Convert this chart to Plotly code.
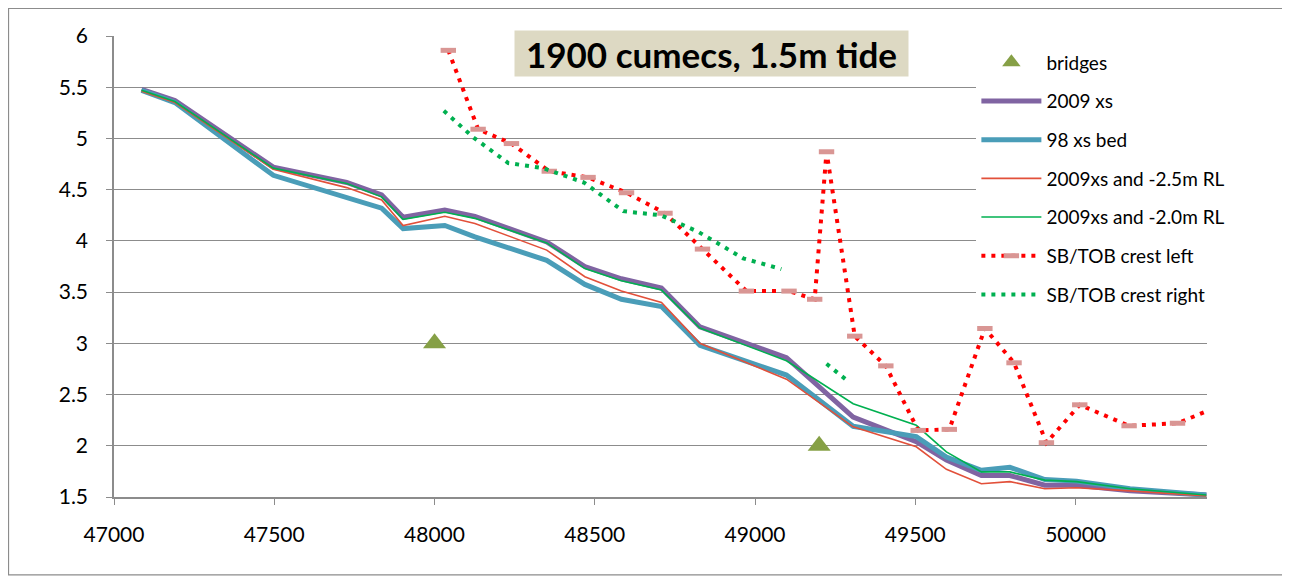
import plotly.graph_objects as go

# chainage (m) of the cross sections
chainage = [47086, 47190, 47497, 47726, 47835, 47902, 48032, 48126, 48350, 48469, 48583, 48708,
            48828, 49098, 49306, 49503, 49597, 49706, 49795, 49904, 50003, 50170, 50408]
xs_2009 = [5.48, 5.37, 4.72, 4.57, 4.45, 4.23, 4.30, 4.24, 3.99, 3.75, 3.63, 3.54,
           3.16, 2.86, 2.28, 2.04, 1.86, 1.71, 1.71, 1.615, 1.615, 1.56, 1.52]
xs_98_bed = [5.47, 5.35, 4.64, 4.43, 4.32, 4.12, 4.15, 4.04, 3.81, 3.575, 3.43, 3.36,
             2.98, 2.69, 2.19, 2.09, 1.89, 1.76, 1.79, 1.67, 1.655, 1.58, 1.52]
xs_2009_m25 = [5.46, 5.35, 4.70, 4.52, 4.40, 4.15, 4.24, 4.17, 3.91, 3.65, 3.51, 3.40,
               3.00, 2.65, 2.185, 1.99, 1.77, 1.63, 1.65, 1.58, 1.59, 1.56, 1.51]
xs_2009_m20 = [5.47, 5.36, 4.71, 4.56, 4.43, 4.21, 4.28, 4.22, 3.98, 3.73, 3.61, 3.52,
               3.15, 2.83, 2.41, 2.20, 1.94, 1.745, 1.745, 1.665, 1.65, 1.58, 1.52]

bridge_x = [48000, 49200]
bridge_y = [3, 2]

crest_left_x = [48043, 48136, 48240, 48358, 48479, 48599, 48719, 48836, 48973, 49106, 49186, 49223,
                49311, 49408, 49509, 49606, 49717, 49808, 49909, 50013, 50167, 50318, 50450]
crest_left_y = [5.86, 5.09, 4.95, 4.68, 4.62, 4.47, 4.27, 3.92, 3.51, 3.51, 3.43, 4.87,
                3.07, 2.78, 2.15, 2.16, 3.145, 2.81, 2.03, 2.40, 2.195, 2.22, 2.39]

crest_right_x = [48029, 48121, 48230, 48339, 48466, 48589, 48706, 48822, 48963, 49082, None, 49223, 49294]
crest_right_y = [5.27, 5.01, 4.76, 4.71, 4.57, 4.29, 4.25, 4.09, 3.83, 3.725, None, 2.80, 2.62]

FONT = "Lato"

fig = go.Figure()
fig.add_trace(go.Scatter(x=bridge_x, y=bridge_y, mode="markers", name="bridges", legendgroup="a",
                         marker=dict(symbol="triangle-up", size=20, color="#86A046")))
fig.add_trace(go.Scatter(x=chainage, y=xs_2009, mode="lines", name="2009 xs", legendgroup="b",
                         line=dict(color="#8064A2", width=5)))
fig.add_trace(go.Scatter(x=chainage, y=xs_98_bed, mode="lines", name="98 xs bed", legendgroup="c",
                         line=dict(color="#4A9DB8", width=5)))
fig.add_trace(go.Scatter(x=chainage, y=xs_2009_m25, mode="lines", name="2009xs and -2.5m RL", legendgroup="d",
                         line=dict(color="#E2503A", width=1.6)))
fig.add_trace(go.Scatter(x=chainage, y=xs_2009_m20, mode="lines", name="2009xs and -2.0m RL", legendgroup="e",
                         line=dict(color="#00B050", width=1.6)))
fig.add_trace(go.Scatter(x=crest_left_x, y=crest_left_y, mode="lines+markers", name="SB/TOB crest left",
                         legendgroup="f",
                         line=dict(color="#FF0000", width=4, dash="4px,6px"),
                         marker=dict(symbol="line-ew", size=11, color="#D99694",
                                     line=dict(color="#D99694", width=5))))
fig.add_trace(go.Scatter(x=crest_right_x, y=crest_right_y, mode="lines", name="SB/TOB crest right",
                         legendgroup="g", connectgaps=False,
                         line=dict(color="#00B050", width=4, dash="4px,6px")))

fig.add_annotation(xref="paper", yref="paper", x=0.547, y=1.013, xanchor="center", yanchor="top",
                   text="<b>1900 cumecs, 1.5m tide</b>", showarrow=False,
                   font=dict(family=FONT, size=35, color="black"),
                   bgcolor="#DDD9C3", width=385, height=37, borderpad=4)

# outer chart border
fig.add_shape(type="rect", xref="paper", yref="paper", x0=-0.0965, x1=1.0714, y0=-0.169, y1=1.0597,
              line=dict(color="#8C8C8C", width=1.2), fillcolor="rgba(0,0,0,0)")

fig.update_xaxes(range=[47000, 50410], dtick=500, tick0=47000, tickformat="d", showgrid=False,
                 showline=True, linecolor="#8C8C8C", linewidth=1.5,
                 ticks="outside", ticklen=6, tickcolor="#8C8C8C", ticklabelstandoff=12,
                 tickfont=dict(family=FONT, size=21, color="black"), zeroline=False)
fig.update_yaxes(range=[1.5, 6], dtick=0.5, tick0=1.5, showgrid=True, gridcolor="#8C8C8C", gridwidth=1.3,
                 showline=True, linecolor="#8C8C8C", linewidth=1.5,
                 ticks="outside", ticklen=6, tickcolor="#8C8C8C", ticklabelstandoff=14,
                 tickfont=dict(family=FONT, size=21, color="black"), zeroline=False)

# the page body adds an 8px offset, so margins are shifted by 8px
fig.update_layout(
    width=1290, height=581,
    margin=dict(l=106, r=91, t=28, b=92),
    paper_bgcolor="white", plot_bgcolor="white",
    font=dict(family=FONT, size=19, color="black"),
    showlegend=True,
    legend=dict(x=0.789, y=0.984, xanchor="left", yanchor="top", bgcolor="white",
                tracegroupgap=11, itemwidth=60, font=dict(family=FONT, size=19, color="black")),
)

fig.write_html("out.html")
